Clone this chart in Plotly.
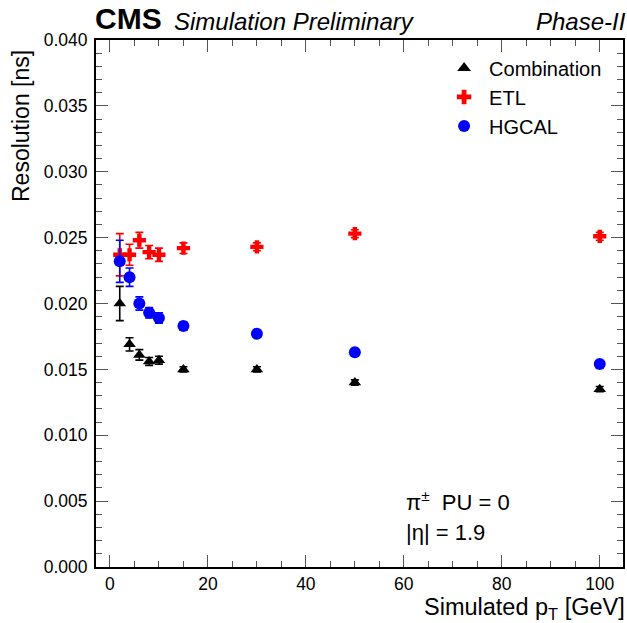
import plotly.graph_objects as go

pt = [2, 4, 6, 8, 10, 15, 30, 50, 100]
comb = [0.0200, 0.0169, 0.0161, 0.0156, 0.0157, 0.0150, 0.0150, 0.0140, 0.0135]
comb_err = [0.0013, 0.0005, 0.0004, 0.0003, 0.0003, 0.0002, 0.0002, 0.0002, 0.0002]
etl = [0.0237, 0.0237, 0.0248, 0.0239, 0.0237, 0.0242, 0.0243, 0.0253, 0.0251]
etl_err = [0.0016, 0.0008, 0.0006, 0.0005, 0.0005, 0.0004, 0.0003, 0.0003, 0.0003]
hgcal = [0.0232, 0.0220, 0.0200, 0.0193, 0.0189, 0.0183, 0.0177, 0.0163, 0.0154]
hgcal_err = [0.0016, 0.0007, 0.0005, 0.0004, 0.0004, 0.0003, 0.0002, 0.0002, 0.0002]

FONT = "Liberation Sans, Arial, sans-serif"
NB = "\u00a0"

fig = go.Figure()

def add(name, y, err, color, symbol, size):
    fig.add_trace(go.Scatter(
        x=pt, y=y, mode="markers", name=name,
        marker=dict(color=color, symbol=symbol, size=size, line=dict(width=0)),
        error_y=dict(type="data", array=err, visible=True, color=color,
                     thickness=1.6, width=4),
    ))

add("Combination", comb, comb_err, "black", "triangle-up", 11)
add("ETL", etl, etl_err, "#ff0000", "cross", 11)
add("HGCAL", hgcal, hgcal_err, "#0000ff", "circle", 12)

axis_common = dict(
    showline=True, linecolor="black", linewidth=2, mirror="allticks",
    ticks="inside", tickcolor="#555555", tickwidth=1.2, ticklen=12,
    showgrid=False, zeroline=False,
    tickfont=dict(family=FONT, size=17.5, color="black"),
)

fig.update_xaxes(range=[-2.85, 104.75], tickmode="linear", tick0=0, dtick=20,
                 minor=dict(ticks="inside", ticklen=6, dtick=5, tickcolor="#555555", tickwidth=1.2),
                 **axis_common)
fig.update_yaxes(range=[0, 0.040], tickmode="linear", tick0=0, dtick=0.005,
                 tickformat=".3f", ticklabelstandoff=3,
                 minor=dict(ticks="inside", ticklen=6, dtick=0.001, tickcolor="#555555", tickwidth=1.2),
                 **axis_common)

annotations = [
    dict(text="<b>CMS</b>", x=0.0, y=1.0, xref="paper", yref="paper",
         xanchor="left", yanchor="bottom", showarrow=False, yshift=3, xshift=-3,
         font=dict(family=FONT, size=30, color="black")),
    dict(text="<i>Simulation Preliminary</i>", x=0.0, y=1.0, xref="paper", yref="paper",
         xanchor="left", yanchor="bottom", showarrow=False, xshift=76, yshift=3,
         font=dict(family=FONT, size=24, color="black")),
    dict(text="<i>Phase-II</i>", x=1.0, y=1.0, xref="paper", yref="paper",
         xanchor="right", yanchor="bottom", showarrow=False, yshift=3, xshift=5,
         font=dict(family=FONT, size=24, color="black")),
    dict(text="Simulated p<sub>T</sub> [GeV]", x=1.0, y=0.0, xref="paper", yref="paper",
         xanchor="right", yanchor="top", showarrow=False, yshift=-25, xshift=4,
         font=dict(family=FONT, size=23.5, color="black")),
    dict(text="Resolution [ns]", x=0.0, y=1.0, xref="paper", yref="paper",
         xanchor="right", yanchor="top", textangle=-90, showarrow=False, xshift=-60, yshift=-8,
         font=dict(family=FONT, size=23, color="black")),
    dict(text="π<sup>±</sup>" + NB * 2 + "PU" + NB + "=" + NB + "0", x=0.585, y=0.125,
         xref="paper", yref="paper", xanchor="left", yanchor="middle", showarrow=False,
         font=dict(family=FONT, size=22, color="black")),
    dict(text="|η|" + NB + "=" + NB + "1.9", x=0.585, y=0.065, xref="paper", yref="paper",
         xanchor="left", yanchor="middle", showarrow=False,
         font=dict(family=FONT, size=22, color="black")),
]

fig.update_layout(
    width=627, height=623,
    margin=dict(l=96, r=2, t=40, b=56),
    paper_bgcolor="white", plot_bgcolor="white",
    annotations=annotations,
    showlegend=True,
    legend=dict(x=0.651, y=0.984, xanchor="left", yanchor="top",
                font=dict(family=FONT, size=20, color="black"),
                bgcolor="rgba(0,0,0,0)", tracegroupgap=0, itemsizing="constant",
                itemwidth=40),
)

fig.write_html("out.html", config={"displayModeBar": False},
               post_script="document.body.style.margin='0';")
